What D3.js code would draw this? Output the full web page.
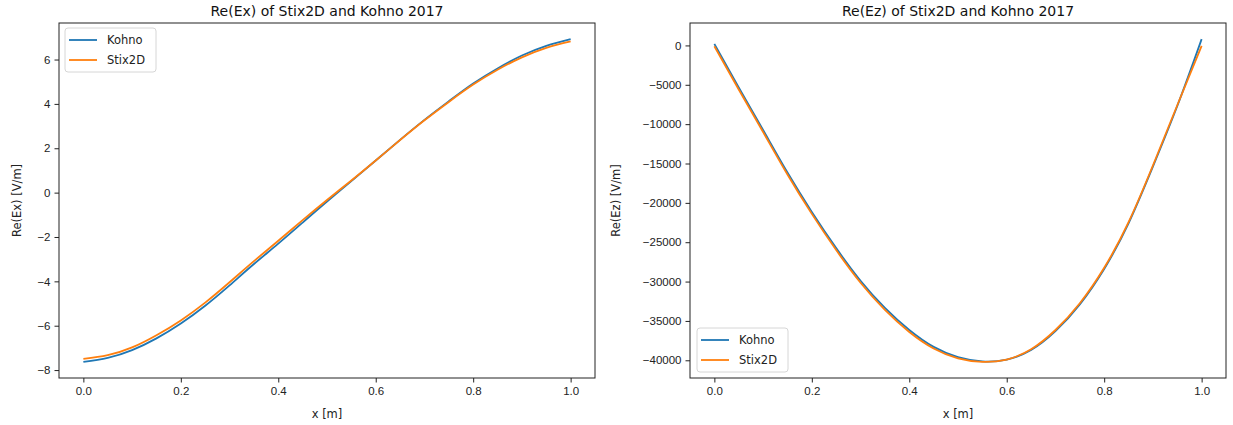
<!DOCTYPE html>
<html>
<head>
<meta charset="utf-8">
<script src="https://cdn.jsdelivr.net/npm/d3@7"></script>
<style>
  body { margin: 0; background: #fff; }
  svg { font-family: "DejaVu Sans", sans-serif; }
  .tick text { font-size: 11.5px; fill: #222; }
  .tick line { stroke: #222; }
  .domain { display: none; }
</style>
</head>
<body>
<svg></svg>
<script>
const width = 1233;
const height = 425;

// x positions [m]
const xs = [0, 0.05, 0.1, 0.15, 0.2, 0.25, 0.3, 0.35, 0.4, 0.45, 0.5,
            0.55, 0.6, 0.65, 0.7, 0.75, 0.8, 0.85, 0.9, 0.95, 1.0];

// Re(Ex) [V/m]
const exKohno = [-7.63, -7.45, -7.10, -6.57, -5.90, -5.10, -4.18, -3.22, -2.30, -1.35, -0.40,
                 0.52, 1.45, 2.38, 3.28, 4.12, 4.92, 5.60, 6.18, 6.62, 6.92];
const exStix = [-7.50, -7.33, -6.98, -6.43, -5.76, -4.96, -4.04, -3.09, -2.17, -1.24, -0.33,
                0.55, 1.45, 2.37, 3.26, 4.09, 4.87, 5.54, 6.10, 6.53, 6.82];

// Re(Ez) [V/m]
const ezKohno = [200, -5350, -10750, -16150, -21150, -25750, -29900, -33350, -36150, -38300, -39600,
                 -40140, -39920, -38700, -36300, -32900, -28400, -22600, -15400, -7700, 800];
const ezStix = [-100, -5600, -11000, -16400, -21400, -26000, -30150, -33600, -36400, -38500, -39750,
                -40200, -39900, -38600, -36150, -32750, -28250, -22450, -15250, -7600, -50];

const xTicks = [0.0, 0.2, 0.4, 0.6, 0.8, 1.0];
const exTicks = [-8, -6, -4, -2, 0, 2, 4, 6];
const ezTicks = [-40000, -35000, -30000, -25000, -20000, -15000, -10000, -5000, 0];

const seriesNames = ["Kohno", "Stix2D"];
const colors = ["#1f77b4", "#ff7f0e"];

var svg = d3.select("svg").attr("width", width).attr("height", height);

const minus = s => String(s).replace("-", "\u2212");

function panel(opts) {
  const left = opts.left, top = 23, w = opts.w, h = 355;
  var g = svg.append("g").attr("transform", `translate(${left},${top})`);

  var x = d3.scaleLinear().domain([-0.05, 1.05]).range([0, w]);
  var all = opts.series.flat();
  var lo = d3.min(all), hi = d3.max(all), pad = (hi - lo) * 0.05;
  var y = d3.scaleLinear().domain([lo - pad, hi + pad]).range([h, 0]);

  g.append("g").attr("transform", `translate(0,${h})`)
    .call(d3.axisBottom(x).tickValues(xTicks).tickFormat(d3.format(".1f")).tickSize(4.5).tickPadding(4));
  g.append("g")
    .call(d3.axisLeft(y).tickValues(opts.yTicks).tickFormat(minus).tickSize(4.5).tickPadding(4));

  var line = d3.line()
    .x((d, i) => x(xs[i]))
    .y(d => y(d))
    .curve(d3.curveNatural);

  g.selectAll("path.series")
    .data(opts.series)
    .enter()
    .append("path")
    .attr("class", "series")
    .attr("d", d => line(d))
    .attr("fill", "none")
    .attr("stroke", (d, i) => colors[i])
    .attr("stroke-width", 1.8);

  g.append("rect").attr("width", w).attr("height", h)
    .attr("fill", "none").attr("stroke", "#222").attr("stroke-width", 1);

  g.append("text").attr("x", w / 2).attr("y", -7)
    .attr("text-anchor", "middle").attr("font-size", 14).attr("fill", "#111")
    .text(opts.title);
  g.append("text").attr("x", w / 2).attr("y", h + 40)
    .attr("text-anchor", "middle").attr("font-size", 11.5).attr("fill", "#222")
    .text("x [m]");
  g.append("text")
    .attr("transform", `translate(${opts.ylabelX},${h / 2}) rotate(-90)`)
    .attr("text-anchor", "middle").attr("font-size", 11.5).attr("fill", "#222")
    .text(opts.ylabel);

  // legend
  var lg = g.append("g").attr("transform", `translate(${opts.legX},${opts.legY})`);
  lg.append("rect").attr("width", 91).attr("height", 44).attr("rx", 3)
    .attr("fill", "#fff").attr("fill-opacity", 0.8)
    .attr("stroke", "#d6d6d6").attr("stroke-width", 1);
  seriesNames.forEach((name, i) => {
    lg.append("line").attr("x1", 4).attr("x2", 32)
      .attr("y1", 12 + i * 20).attr("y2", 12 + i * 20)
      .attr("stroke", colors[i]).attr("stroke-width", 1.8);
    lg.append("text").attr("x", 42).attr("y", 16 + i * 20)
      .attr("font-size", 11.5).attr("fill", "#222").text(name);
  });
}

panel({left: 59, w: 536, series: [exKohno, exStix], yTicks: exTicks,
       title: "Re(Ex) of Stix2D and Kohno 2017", ylabel: "Re(Ex) [V/m]",
       ylabelX: -38, legX: 6, legY: 5});
panel({left: 690, w: 536, series: [ezKohno, ezStix], yTicks: ezTicks,
       title: "Re(Ez) of Stix2D and Kohno 2017", ylabel: "Re(Ez) [V/m]",
       ylabelX: -70, legX: 7, legY: 305});
</script>
</body>
</html>
